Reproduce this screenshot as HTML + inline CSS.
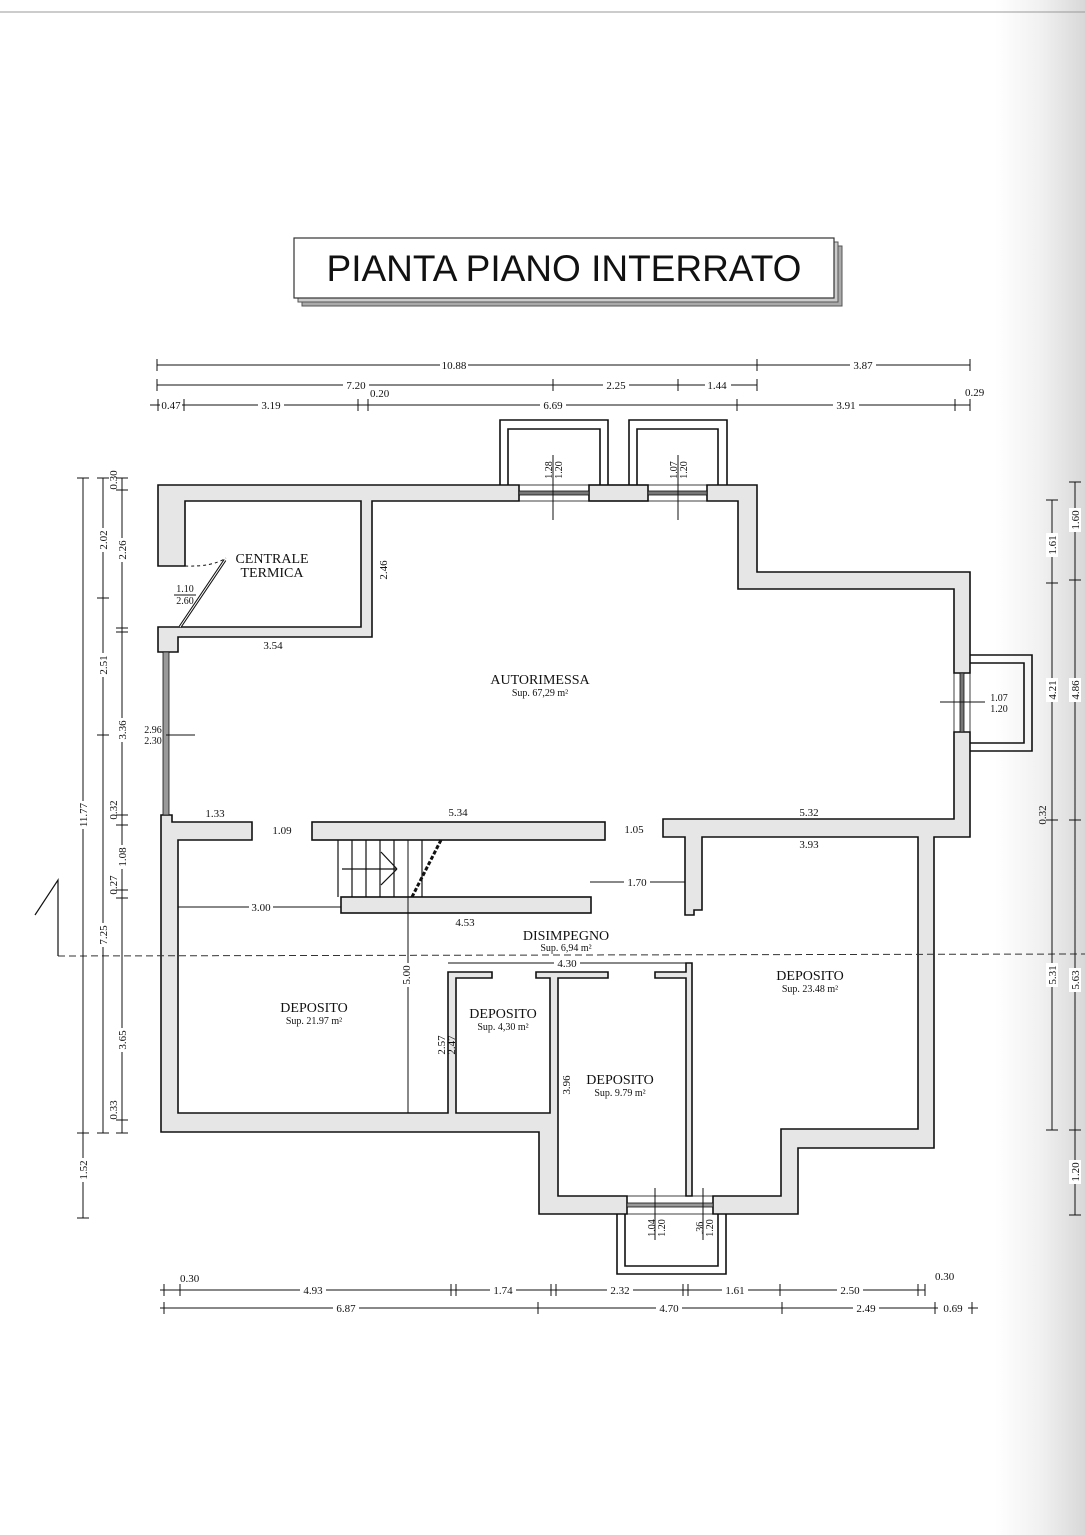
<!DOCTYPE html>
<html><head><meta charset="utf-8"><style>
html,body{margin:0;padding:0;background:#fff}
svg{display:block}
text{font-family:"Liberation Serif",serif;fill:#111}
</style></head><body>
<svg width="1085" height="1535" viewBox="0 0 1085 1535" xmlns="http://www.w3.org/2000/svg">
<defs>
<linearGradient id="edge" x1="0" x2="1" y1="0" y2="0">
<stop offset="0" stop-color="#fff"/><stop offset="0.5" stop-color="#f1f1f1"/><stop offset="1" stop-color="#d8d8d8"/>
</linearGradient>
</defs>
<rect x="0" y="0" width="1085" height="1535" fill="#fff"/>
<rect x="995" y="0" width="90" height="1535" fill="url(#edge)"/>
<line x1="0" y1="12" x2="1085" y2="12" stroke="#999" stroke-width="1"/>

<!-- Title -->
<rect x="302" y="246" width="540" height="60" fill="#aaa" stroke="#555"/>
<rect x="298" y="242" width="540" height="60" fill="#ccc" stroke="#555"/>
<rect x="294" y="238" width="540" height="60" fill="#fff" stroke="#333" stroke-width="1.2"/>
<text x="564" y="281" text-anchor="middle" style="font-family:'Liberation Sans',sans-serif;font-size:37px">PIANTA PIANO INTERRATO</text>

<g fill="#e6e6e6" stroke="#111" stroke-width="1.6" stroke-linejoin="miter">
<!-- top-left -->
<polygon points="158,485 519,485 519,501 372,501 372,637 178,637 178,652 158,652 158,627 361,627 361,501 185,501 185,566 158,566"/>
<rect x="589" y="485" width="59" height="16"/>
<polygon points="707,485 757,485 757,572 970,572 970,673 954,673 954,589 738,589 738,501 707,501"/>
<polygon points="663,819 954,819 954,732 970,732 970,837 934,837 934,1148 798,1148 798,1214 713,1214 713,1196 781,1196 781,1129 918,1129 918,837 702,837 702,910 694,910 694,915 685,915 685,837 663,837"/>
<polygon points="161,815 172,815 172,822 252,822 252,840 178,840 178,1113 448,1113 448,972 492,972 492,978 456,978 456,1113 550,1113 550,978 536,978 536,972 608,972 608,978 558,978 558,1196 627,1196 627,1214 539,1214 539,1132 161,1132"/>
<polygon points="655,972 686,972 686,963 692,963 692,1196 686,1196 686,978 655,978"/>
<rect x="312" y="822" width="293" height="18"/>
<rect x="341" y="897" width="250" height="16"/>
</g>

<!-- windows -->
<g stroke="#111" fill="none">
<rect x="519" y="485" width="70" height="16" stroke-width="0.8"/>
<rect x="519" y="491" width="70" height="4" fill="#777" stroke-width="0.8"/>
<rect x="648" y="485" width="59" height="16" stroke-width="0.8"/>
<rect x="648" y="491" width="59" height="4" fill="#777" stroke-width="0.8"/>
<rect x="954" y="673" width="16" height="59" stroke-width="0.8"/>
<rect x="960" y="673" width="4" height="59" fill="#777" stroke-width="0.8"/>
<rect x="627" y="1196" width="86" height="18" stroke-width="0.8"/>
<rect x="627" y="1203" width="86" height="4" fill="#999" stroke-width="0.8"/>
<rect x="163" y="652" width="6" height="163" fill="#999" stroke-width="0.8"/>
</g>

<!-- light wells -->
<g stroke="#111" fill="none" stroke-width="1.6">
<polyline points="500,485 500,420 608,420 608,485"/>
<polyline points="508,485 508,429 600,429 600,485"/>
<polyline points="629,485 629,420 727,420 727,485"/>
<polyline points="637,485 637,429 718,429 718,485"/>
<polyline points="970,655 1032,655 1032,751 970,751"/>
<polyline points="970,663 1024,663 1024,743 970,743"/>
<polyline points="617,1214 617,1274 726,1274 726,1214"/>
<polyline points="625,1214 625,1266 718,1266 718,1214"/>
</g>

<!-- door -->
<line x1="180" y1="627" x2="225" y2="560" stroke="#111" stroke-width="3"/>
<line x1="180" y1="627" x2="225" y2="560" stroke="#fff" stroke-width="1"/>
<path d="M185,566 Q212,567 226,558" fill="none" stroke="#111" stroke-dasharray="3,3"/>

<!-- stairs -->
<g stroke="#111" stroke-width="1.2">
<line x1="338" y1="840" x2="338" y2="897"/><line x1="352" y1="840" x2="352" y2="897"/>
<line x1="366" y1="840" x2="366" y2="897"/><line x1="380" y1="840" x2="380" y2="897"/>
<line x1="394" y1="840" x2="394" y2="897"/><line x1="422" y1="840" x2="422" y2="897"/>
<line x1="342" y1="869" x2="397" y2="869"/>
<line x1="381" y1="852" x2="397" y2="869"/><line x1="381" y1="885" x2="397" y2="869"/>
<line x1="441" y1="840" x2="412" y2="897" stroke-width="3" stroke-dasharray="4,2"/>
</g>

<!-- dashed section -->
<line x1="58" y1="956" x2="1085" y2="954" stroke="#333" stroke-dasharray="7,4" stroke-width="1"/>
<polyline points="35,915 58,880 58,956" fill="none" stroke="#111" stroke-width="1.2"/>

<!-- dimension lines -->
<g stroke="#111" stroke-width="1" fill="none">
<line x1="157" y1="365" x2="970" y2="365"/>
<line x1="157" y1="385" x2="757" y2="385"/>
<line x1="150" y1="405" x2="970" y2="405"/>
<line x1="157" y1="359" x2="157" y2="371"/><line x1="757" y1="359" x2="757" y2="371"/><line x1="970" y1="359" x2="970" y2="371"/>
<line x1="157" y1="379" x2="157" y2="391"/><line x1="553" y1="379" x2="553" y2="391"/><line x1="678" y1="379" x2="678" y2="391"/><line x1="757" y1="379" x2="757" y2="391"/>
<line x1="158" y1="399" x2="158" y2="411"/><line x1="184" y1="399" x2="184" y2="411"/><line x1="358" y1="399" x2="358" y2="411"/><line x1="368" y1="399" x2="368" y2="411"/><line x1="737" y1="399" x2="737" y2="411"/><line x1="955" y1="399" x2="955" y2="411"/><line x1="970" y1="399" x2="970" y2="411"/>
<!-- left -->
<line x1="83" y1="478" x2="83" y2="1218"/>
<line x1="103" y1="478" x2="103" y2="1133"/>
<line x1="122" y1="478" x2="122" y2="1133"/>
<line x1="77" y1="478" x2="89" y2="478"/><line x1="77" y1="1133" x2="89" y2="1133"/><line x1="77" y1="1218" x2="89" y2="1218"/>
<line x1="97" y1="478" x2="109" y2="478"/><line x1="97" y1="598" x2="109" y2="598"/><line x1="97" y1="735" x2="109" y2="735"/><line x1="97" y1="1133" x2="109" y2="1133"/>
<line x1="116" y1="478" x2="128" y2="478"/><line x1="116" y1="490" x2="128" y2="490"/><line x1="116" y1="628" x2="128" y2="628"/><line x1="116" y1="632" x2="128" y2="632"/><line x1="116" y1="815" x2="128" y2="815"/><line x1="116" y1="825" x2="128" y2="825"/><line x1="116" y1="890" x2="128" y2="890"/><line x1="116" y1="898" x2="128" y2="898"/><line x1="116" y1="1120" x2="128" y2="1120"/><line x1="116" y1="1133" x2="128" y2="1133"/>
<!-- right -->
<line x1="1052" y1="500" x2="1052" y2="1130"/>
<line x1="1075" y1="482" x2="1075" y2="1215"/>
<line x1="1046" y1="500" x2="1058" y2="500"/><line x1="1046" y1="583" x2="1058" y2="583"/><line x1="1046" y1="820" x2="1058" y2="820"/><line x1="1046" y1="1130" x2="1058" y2="1130"/>
<line x1="1069" y1="482" x2="1081" y2="482"/><line x1="1069" y1="580" x2="1081" y2="580"/><line x1="1069" y1="820" x2="1081" y2="820"/><line x1="1069" y1="1130" x2="1081" y2="1130"/><line x1="1069" y1="1215" x2="1081" y2="1215"/>
<!-- bottom -->
<line x1="160" y1="1290" x2="925" y2="1290"/>
<line x1="160" y1="1308" x2="978" y2="1308"/>
<line x1="164" y1="1284" x2="164" y2="1296"/><line x1="180" y1="1284" x2="180" y2="1296"/><line x1="451" y1="1284" x2="451" y2="1296"/><line x1="456" y1="1284" x2="456" y2="1296"/><line x1="551" y1="1284" x2="551" y2="1296"/><line x1="556" y1="1284" x2="556" y2="1296"/><line x1="683" y1="1284" x2="683" y2="1296"/><line x1="688" y1="1284" x2="688" y2="1296"/><line x1="780" y1="1284" x2="780" y2="1296"/><line x1="918" y1="1284" x2="918" y2="1296"/><line x1="925" y1="1284" x2="925" y2="1296"/>
<line x1="164" y1="1302" x2="164" y2="1314"/><line x1="538" y1="1302" x2="538" y2="1314"/><line x1="782" y1="1302" x2="782" y2="1314"/><line x1="935" y1="1302" x2="935" y2="1314"/><line x1="972" y1="1302" x2="972" y2="1314"/>
<!-- internal dims -->
<line x1="408" y1="840" x2="408" y2="1113"/>
<line x1="178" y1="907" x2="341" y2="907"/>
<line x1="590" y1="882" x2="685" y2="882"/>
<line x1="448" y1="963" x2="686" y2="963"/>
<line x1="553" y1="455" x2="553" y2="520"/>
<line x1="678" y1="455" x2="678" y2="520"/>
<line x1="940" y1="702" x2="985" y2="702"/>
<line x1="166" y1="735" x2="195" y2="735"/>
<line x1="655" y1="1188" x2="655" y2="1240"/>
<line x1="703" y1="1188" x2="703" y2="1240"/>
</g>

<g font-size="11">
<rect x="440" y="359" width="28" height="12" fill="#fff"/><text x="454" y="369" text-anchor="middle">10.88</text>
<rect x="850" y="359" width="26" height="12" fill="#fff"/><text x="863" y="369" text-anchor="middle">3.87</text>
<rect x="343" y="379" width="26" height="12" fill="#fff"/><text x="356" y="389" text-anchor="middle">7.20</text>
<rect x="603" y="379" width="26" height="12" fill="#fff"/><text x="616" y="389" text-anchor="middle">2.25</text>
<rect x="705" y="379" width="26" height="12" fill="#fff"/><text x="717" y="389" text-anchor="middle">1.44</text>
<text x="370" y="397">0.20</text>
<rect x="160" y="399" width="22" height="12" fill="#fff"/><text x="171" y="409" text-anchor="middle">0.47</text>
<rect x="258" y="399" width="26" height="12" fill="#fff"/><text x="271" y="409" text-anchor="middle">3.19</text>
<rect x="540" y="399" width="26" height="12" fill="#fff"/><text x="553" y="409" text-anchor="middle">6.69</text>
<rect x="833" y="399" width="26" height="12" fill="#fff"/><text x="846" y="409" text-anchor="middle">3.91</text>
<text x="965" y="396">0.29</text>

<rect x="192" y="1284" width="-0" height="0"/>
<rect x="300" y="1284" width="26" height="12" fill="#fff"/><text x="313" y="1294" text-anchor="middle">4.93</text>
<rect x="490" y="1284" width="26" height="12" fill="#fff"/><text x="503" y="1294" text-anchor="middle">1.74</text>
<rect x="607" y="1284" width="26" height="12" fill="#fff"/><text x="620" y="1294" text-anchor="middle">2.32</text>
<rect x="722" y="1284" width="26" height="12" fill="#fff"/><text x="735" y="1294" text-anchor="middle">1.61</text>
<rect x="837" y="1284" width="26" height="12" fill="#fff"/><text x="850" y="1294" text-anchor="middle">2.50</text>
<text x="180" y="1282">0.30</text><text x="935" y="1280">0.30</text>
<rect x="333" y="1302" width="26" height="12" fill="#fff"/><text x="346" y="1312" text-anchor="middle">6.87</text>
<rect x="656" y="1302" width="26" height="12" fill="#fff"/><text x="669" y="1312" text-anchor="middle">4.70</text>
<rect x="853" y="1302" width="26" height="12" fill="#fff"/><text x="866" y="1312" text-anchor="middle">2.49</text>
<rect x="938" y="1302" width="30" height="12" fill="#fff"/><text x="953" y="1312" text-anchor="middle">0.69</text>

<g text-anchor="middle">
<g transform="translate(87,815) rotate(-90)"><rect x="-14" y="-10" width="28" height="12" fill="#fff"/><text x="0" y="0">11.77</text></g>
<g transform="translate(87,1170) rotate(-90)"><rect x="-12" y="-10" width="24" height="12" fill="#fff"/><text x="0" y="0">1.52</text></g>
<g transform="translate(107,540) rotate(-90)"><rect x="-12" y="-10" width="24" height="12" fill="#fff"/><text x="0" y="0">2.02</text></g>
<g transform="translate(107,665) rotate(-90)"><rect x="-12" y="-10" width="24" height="12" fill="#fff"/><text x="0" y="0">2.51</text></g>
<g transform="translate(107,935) rotate(-90)"><rect x="-12" y="-10" width="24" height="12" fill="#fff"/><text x="0" y="0">7.25</text></g>
<g transform="translate(126,550) rotate(-90)"><rect x="-12" y="-10" width="24" height="12" fill="#fff"/><text x="0" y="0">2.26</text></g>
<g transform="translate(126,730) rotate(-90)"><rect x="-12" y="-10" width="24" height="12" fill="#fff"/><text x="0" y="0">3.36</text></g>
<g transform="translate(126,857) rotate(-90)"><rect x="-12" y="-10" width="24" height="12" fill="#fff"/><text x="0" y="0">1.08</text></g>
<g transform="translate(126,1040) rotate(-90)"><rect x="-12" y="-10" width="24" height="12" fill="#fff"/><text x="0" y="0">3.65</text></g>
<g transform="translate(117,480) rotate(-90)"><text x="0" y="0">0.30</text></g>
<g transform="translate(117,810) rotate(-90)"><text x="0" y="0">0.32</text></g>
<g transform="translate(117,885) rotate(-90)"><text x="0" y="0">0.27</text></g>
<g transform="translate(117,1110) rotate(-90)"><text x="0" y="0">0.33</text></g>
<g transform="translate(1056,545) rotate(-90)"><rect x="-12" y="-10" width="24" height="12" fill="#fff"/><text x="0" y="0">1.61</text></g>
<g transform="translate(1056,690) rotate(-90)"><rect x="-12" y="-10" width="24" height="12" fill="#fff"/><text x="0" y="0">4.21</text></g>
<g transform="translate(1056,975) rotate(-90)"><rect x="-12" y="-10" width="24" height="12" fill="#fff"/><text x="0" y="0">5.31</text></g>
<g transform="translate(1046,815) rotate(-90)"><text x="0" y="0">0.32</text></g>
<g transform="translate(1079,520) rotate(-90)"><rect x="-12" y="-10" width="24" height="12" fill="#fff"/><text x="0" y="0">1.60</text></g>
<g transform="translate(1079,690) rotate(-90)"><rect x="-12" y="-10" width="24" height="12" fill="#fff"/><text x="0" y="0">4.86</text></g>
<g transform="translate(1079,980) rotate(-90)"><rect x="-12" y="-10" width="24" height="12" fill="#fff"/><text x="0" y="0">5.63</text></g>
<g transform="translate(1079,1172) rotate(-90)"><rect x="-12" y="-10" width="24" height="12" fill="#fff"/><text x="0" y="0">1.20</text></g>
<g transform="translate(387,570) rotate(-90)"><text x="0" y="0">2.46</text></g>
<g transform="translate(410,975) rotate(-90)"><rect x="-12" y="-10" width="24" height="12" fill="#fff"/><text x="0" y="0">5.00</text></g>
<g transform="translate(445,1045) rotate(-90)"><text x="0" y="0">2.57</text></g>
<g transform="translate(455,1045) rotate(-90)"><text x="0" y="0">2.47</text></g>
<g transform="translate(570,1085) rotate(-90)"><text x="0" y="0">3.96</text></g>
<g transform="translate(552,470) rotate(-90)"><text x="0" y="0" font-size="10">1.28</text></g>
<g transform="translate(562,470) rotate(-90)"><text x="0" y="0" font-size="10">1.20</text></g>
<g transform="translate(677,470) rotate(-90)"><text x="0" y="0" font-size="10">1.07</text></g>
<g transform="translate(687,470) rotate(-90)"><text x="0" y="0" font-size="10">1.20</text></g>
<g transform="translate(655,1228) rotate(-90)"><text x="0" y="0" font-size="10">1.04</text></g>
<g transform="translate(665,1228) rotate(-90)"><text x="0" y="0" font-size="10">1.20</text></g>
<g transform="translate(703,1228) rotate(-90)"><text x="0" y="0" font-size="10">.36</text></g>
<g transform="translate(713,1228) rotate(-90)"><text x="0" y="0" font-size="10">1.20</text></g>
<text x="999" y="701" font-size="10">1.07</text><text x="999" y="712" font-size="10">1.20</text>
<text x="153" y="733" font-size="10">2.96</text><text x="153" y="744" font-size="10">2.30</text>
<text x="185" y="592" font-size="10">1.10</text><line x1="174" y1="595" x2="196" y2="595" stroke="#111"/><text x="185" y="604" font-size="10">2.60</text>
<text x="273" y="649">3.54</text>
<text x="215" y="817">1.33</text>
<text x="282" y="834">1.09</text>
<text x="458" y="816">5.34</text>
<text x="634" y="833">1.05</text>
<text x="809" y="816">5.32</text>
<text x="809" y="848">3.93</text>
<rect x="249" y="901" width="24" height="12" fill="#fff"/><text x="261" y="911">3.00</text>
<rect x="624" y="876" width="26" height="12" fill="#fff"/><text x="637" y="886">1.70</text>
<text x="465" y="926">4.53</text>
<rect x="554" y="957" width="26" height="12" fill="#fff"/><text x="567" y="967">4.30</text>
</g>
</g>

<g text-anchor="middle">
<text x="272" y="563" font-size="14">CENTRALE</text>
<text x="272" y="577" font-size="14">TERMICA</text>
<text x="540" y="684" font-size="14">AUTORIMESSA</text>
<text x="540" y="696" font-size="10">Sup. 67,29 m²</text>
<text x="566" y="940" font-size="14">DISIMPEGNO</text>
<text x="566" y="951" font-size="10">Sup. 6,94 m²</text>
<text x="314" y="1012" font-size="14">DEPOSITO</text>
<text x="314" y="1024" font-size="10">Sup. 21.97 m²</text>
<text x="503" y="1018" font-size="14">DEPOSITO</text>
<text x="503" y="1030" font-size="10">Sup. 4,30 m²</text>
<text x="620" y="1084" font-size="14">DEPOSITO</text>
<text x="620" y="1096" font-size="10">Sup. 9.79 m²</text>
<text x="810" y="980" font-size="14">DEPOSITO</text>
<text x="810" y="992" font-size="10">Sup. 23.48 m²</text>
</g>
</svg>
</body></html>
